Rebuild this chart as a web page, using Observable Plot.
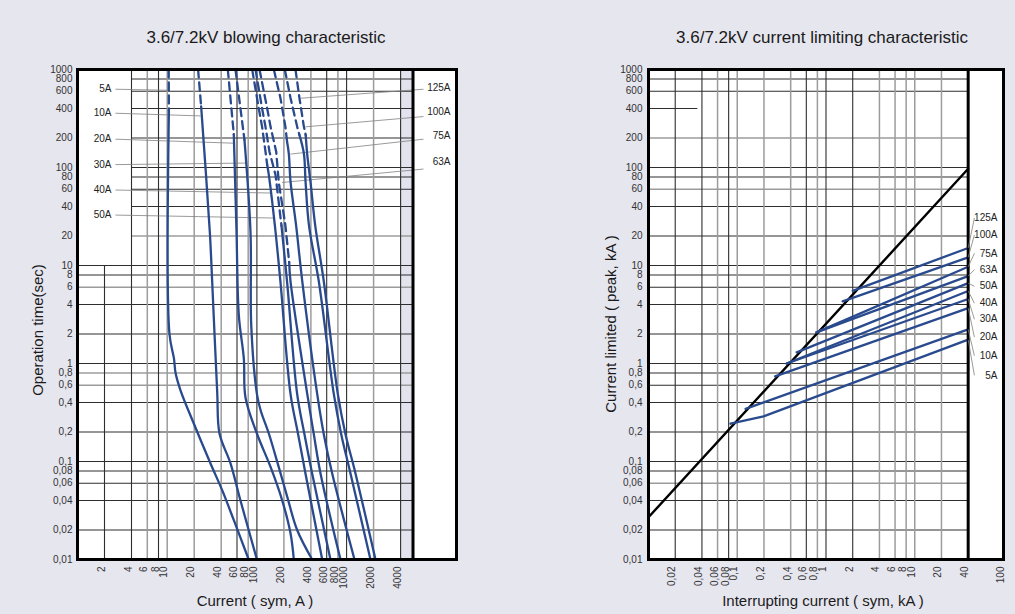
<!DOCTYPE html>
<html><head><meta charset="utf-8">
<script src="https://cdn.jsdelivr.net/npm/d3@7"></script>
<script src="https://cdn.jsdelivr.net/npm/@observablehq/plot@0.6"></script>
<style>
html,body{margin:0;padding:0;background:#e6e6ef;}
#wrap{position:relative;width:1015px;height:614px;background:#e6e6ef;font-family:"Liberation Sans",Arial,sans-serif;color:#1a1a1a;overflow:hidden;}
.abs{position:absolute;white-space:nowrap;line-height:1;}
.title{font-size:17px;transform:translate(-50%,-50%);}
.xlab{font-size:15px;transform:translate(-50%,-50%);}
.ylab{font-size:15px;transform:translate(-50%,-50%) rotate(-90deg);}
</style></head>
<body>
<div id="wrap">
  <div class="abs title" style="left:266px;top:37px">3.6/7.2kV blowing characteristic</div>
  <div class="abs title" style="left:822px;top:37px">3.6/7.2kV current limiting characteristic</div>
  <div class="abs ylab" style="left:37px;top:330px">Operation time(sec)</div>
  <div class="abs xlab" style="left:255px;top:600px">Current ( sym, A )</div>
  <div class="abs ylab" style="left:610px;top:324px">Current limited ( peak, kA )</div>
  <div class="abs xlab" style="left:823px;top:600px">Interrupting current ( sym, kA )</div>
</div>
<script>
// ---------- shared ticks ----------
const yTicks = [1000,800,600,400,200,100,80,60,40,20,10,8,6,4,2,1,0.8,0.6,0.4,0.2,0.1,0.08,0.06,0.04,0.02,0.01];
const xTicksBlow = [2,4,6,8,10,20,40,60,80,100,200,400,600,800,1000,2000,4000];
const xTicksLimit = [0.02,0.04,0.06,0.08,0.1,0.2,0.4,0.6,0.8,1,2,4,6,8,10,20,40,100];
const fuseNames = ["5A","10A","20A","30A","40A","50A","63A","75A","100A","125A"];

// ---------- blowing characteristic: [current A, time s] ----------
const blow5A   = [[10.4,1000],[10.45,380],[10.6,2],[11.9,1.12],[12.4,0.8],[14.1,0.53],[19.8,0.244],[30.4,0.0955],[41,0.051],[55.3,0.0252],[81,0.01]];
const blow10A  = [[22.1,1000],[23.9,420],[29.9,21.6],[31.7,7.0],[36.1,0.51],[38.3,0.193],[50.8,0.0955],[65.6,0.04],[100,0.01]];
const blow20A  = [[47.4,1000],[55.3,217],[59.3,21.6],[62.9,3.09],[71.5,1.12],[74.6,0.45],[100,0.193],[142,0.088],[191,0.0404],[237,0.0185],[258,0.01]];
const blow30A  = [[57.7,1000],[72.7,191],[84.9,21.6],[86.5,2.44],[100,0.49],[110,0.333],[135.8,0.193],[175,0.088],[218,0.0436],[281,0.02],[413,0.01]];
const blow40A  = [[88.6,1000],[105,400],[114.3,260],[124.7,145],[130.3,106],[135.8,84],[158.7,25.5],[182.9,6.9],[237,0.49],[288,0.19],[348,0.0755],[535,0.01]];
const blow50A  = [[96.5,1000],[114.3,400],[124.7,260],[138.1,145],[161.3,84],[187.9,25.5],[216.8,6.9],[281,0.49],[339,0.19],[413,0.0755],[661,0.01]];
const blow63A  = [[106.9,1000],[130.3,400],[142,260],[164.2,145],[175.5,69.8],[208,25.5],[229,10.8],[237,6.9],[364,0.49],[431,0.19],[512,0.0755],[855,0.01]];
const blow75A  = [[154.5,1000],[182.9,513],[208,260],[216.8,184],[227,138],[237,72],[273.8,25.5],[320.6,6.9],[470,0.49],[557,0.19],[691,0.0755],[1225,0.01]];
const blow100A = [[204.6,1000],[237,513],[281.4,260],[298,215],[334.4,138],[348.6,72],[381,25.5],[490,6.9],[720,0.49],[871,0.19],[1105,0.0755],[1846,0.01]];
const blow125A = [[269.3,1000],[297.8,513],[334.4,260],[350,215],[363.4,138],[395.4,72],[447,25.5],[557,6.9],[798,0.49],[972,0.19],[1257,0.0755],[2100,0.01]];
// index of the point where the dashed (upper) part ends
const blowDashUntil = [1,1,1,1,4,5,6,3,3,3];

// labels of the blowing chart
const blowLeftLabels  = ["5A","10A","20A","30A","40A","50A"];
const blowLeftLabelT  = [629,358,194.5,107,58.9,32.7];
const blowLeftLeaderEnd = [[10.3,614],[23.5,336],[55.3,177],[78,111],[142,54.9],[154,30.5]];
const blowRightLabels = ["125A","100A","75A","63A"];
const blowRightLabelT = [644,371,210,114];
const blowRightLeaderStartT = [629,331,194.5,96.4];
const blowRightLeaderEnd = [[306,509],[348.6,260],[237,137],[191,70.3]];

// ---------- current limiting characteristic: [kA sym, kA peak] ----------
const limitDiagonal = [[0.01,0.027],[40,97]];
const limit5A   = [[0.084,0.243],[0.198,0.289],[40,1.75]];
const limit10A  = [[0.124,0.345],[40,2.23]];
const limit20A  = [[0.267,0.74],[40,3.68]];
const limit30A  = [[0.36,1.0],[40,4.55]];
const limit40A  = [[0.36,1.0],[40,5.5]];
const limit50A  = [[0.467,1.3],[40,6.6]];
const limit63A  = [[0.78,2.08],[40,7.8]];
const limit75A  = [[0.78,2.08],[40,9.7]];
const limit100A = [[1.54,4.3],[40,12.1]];
const limit125A = [[2.0,5.5],[40,15.1]];
const limitLabelY = [0.757,1.2,1.86,2.83,4.12,6.14,9.08,13.3,20.5,30.5];

// ---------- layout constants (data space) ----------
const blowGridMax = 5500, blowBoxMax = 16800, blowBandMin = 4000;
const limitGridMax = 40, limitBoxMax = 100;

// ---------- styles ----------
const FONT = "'Liberation Sans', Arial, sans-serif";
const BLUE = "#2a4a8e", DARK = "#2e2e2e", GRAY = "#9c9c9c";
const fmt = d => String(d).replace(".", ",");
const blowDarkX = [2,4,8,60,100,600,1000,4000];
const blowGrayY = [20,6,0.8,0.6];
const limitDarkX = [0.02,0.04,0.08,0.6,1,2];
const limitGrayY = [200,60,0.06];
const yGrid = yTicks.filter(d => d !== 1000 && d !== 0.01);

// ---------- build rows ----------
const blowCurves = [blow5A,blow10A,blow20A,blow30A,blow40A,blow50A,blow63A,blow75A,blow100A,blow125A];
const dashedRows = [], solidRows = [];
blowCurves.forEach((pts, k) => {
  pts.forEach((p, i) => {
    const r = {fuse: fuseNames[k], I: p[0], t: p[1]};
    if (i <= blowDashUntil[k]) dashedRows.push(r);
    if (i >= blowDashUntil[k]) solidRows.push(r);
  });
});
const leftLabelRows = blowLeftLabels.map((s, i) => ({s, t: blowLeftLabelT[i], end: blowLeftLeaderEnd[i]}));
const rightLabelRows = blowRightLabels.map((s, i) => ({s, t: blowRightLabelT[i], ts: blowRightLeaderStartT[i], end: blowRightLeaderEnd[i]}));

const limitCurves = [limit5A,limit10A,limit20A,limit30A,limit40A,limit50A,limit63A,limit75A,limit100A,limit125A];
const limitRows = [];
limitCurves.forEach((pts, k) => pts.forEach(p => limitRows.push({fuse: fuseNames[k], x: p[0], y: p[1]})));
const limitLabelRows = fuseNames.map((s, i) => ({s, y: limitLabelY[i], end: limitCurves[i][limitCurves[i].length - 1]}));

const baseStyle = {background: "transparent", fontFamily: FONT, fontSize: "10px", color: "#2a2a2a", overflow: "visible"};

// ---------- left chart ----------
const left = Plot.plot({
  width: 480, height: 614,
  marginLeft: 77, marginRight: 24, marginTop: 69, marginBottom: 55,
  style: baseStyle,
  x: {type: "log", domain: [1, blowBoxMax], axis: null},
  y: {type: "log", domain: [0.01, 1000], axis: null},
  marks: [
    Plot.frame({fill: "white"}),
    Plot.rect([0], {x1: () => blowBandMin, x2: () => blowGridMax, y1: () => 0.01, y2: () => 1000, fill: "#e3e3ee"}),
    Plot.ruleY(yGrid, {y: d => d, x1: d => d >= 20 ? 4 : 1, x2: () => blowGridMax,
      stroke: d => blowGrayY.includes(d) ? GRAY : DARK, strokeWidth: d => blowGrayY.includes(d) ? 1.5 : 1.1}),
    Plot.ruleX(xTicksBlow, {x: d => d, y1: () => 0.01, y2: d => d === 2 ? 10 : 1000,
      stroke: d => blowDarkX.includes(d) ? DARK : GRAY, strokeWidth: d => blowDarkX.includes(d) ? 1.1 : 1.5}),
    Plot.link(leftLabelRows, {x1: () => 2.65, y1: d => d.t, x2: d => d.end[0], y2: d => d.end[1], stroke: "#808080", strokeWidth: 0.8}),
    Plot.link(rightLabelRows, {x1: () => 7200, y1: d => d.ts, x2: d => d.end[0], y2: d => d.end[1], stroke: "#808080", strokeWidth: 0.8}),
    Plot.line(dashedRows, {x: "I", y: "t", z: "fuse", stroke: BLUE, strokeWidth: 2.3, strokeDasharray: "8,5"}),
    Plot.line(solidRows, {x: "I", y: "t", z: "fuse", stroke: BLUE, strokeWidth: 2.3, curve: "catmull-rom"}),
    Plot.ruleX([blowGridMax], {stroke: "#000", strokeWidth: 3}),
    Plot.frame({stroke: "#000", strokeWidth: 3}),
    Plot.text(leftLabelRows, {x: () => 2.39, y: d => d.t, text: d => d.s, textAnchor: "end", fill: "#222", fontSize: 10}),
    Plot.text(rightLabelRows, {x: () => 14400, y: d => d.t, text: d => d.s, textAnchor: "end", fill: "#222", fontSize: 10}),
    Plot.text(yTicks, {y: d => d, text: fmt, frameAnchor: "left", textAnchor: "end", dx: -5, fill: "#333", fontSize: 10}),
    Plot.text(xTicksBlow, {x: d => d, text: fmt, frameAnchor: "bottom", rotate: -90, textAnchor: "end", dy: 7, fill: "#333", fontSize: 10})
  ]
});

// ---------- right chart ----------
const right = Plot.plot({
  width: 485, height: 614,
  marginLeft: 118, marginRight: 12, marginTop: 69, marginBottom: 55,
  style: baseStyle,
  x: {type: "log", domain: [0.01, limitBoxMax], axis: null},
  y: {type: "log", domain: [0.01, 1000], axis: null},
  marks: [
    Plot.frame({fill: "white"}),
    Plot.ruleY(yGrid, {y: d => d, x1: () => 0.01, x2: d => d === 400 ? 0.036 : limitGridMax,
      stroke: d => limitGrayY.includes(d) ? GRAY : DARK, strokeWidth: d => limitGrayY.includes(d) ? 1.5 : 1.1}),
    Plot.ruleX(xTicksLimit.filter(d => d < limitGridMax), {x: d => d, y1: () => 0.01, y2: () => 1000,
      stroke: d => limitDarkX.includes(d) ? DARK : GRAY, strokeWidth: d => limitDarkX.includes(d) ? 1.1 : 1.5}),
    Plot.line(limitDiagonal, {x: d => d[0], y: d => d[1], stroke: "#000", strokeWidth: 2.4}),
    Plot.line(limitRows, {x: "x", y: "y", z: "fuse", stroke: BLUE, strokeWidth: 2.3}),
    Plot.ruleX([limitGridMax], {stroke: "#000", strokeWidth: 3}),
    Plot.frame({stroke: "#000", strokeWidth: 3}),
    Plot.link(limitLabelRows, {x1: () => 47, y1: d => d.y, x2: d => d.end[0], y2: d => d.end[1], stroke: "#808080", strokeWidth: 0.8}),
    Plot.text(limitLabelRows, {x: () => 85.5, y: d => d.y, text: d => d.s, textAnchor: "end", fill: "#222", fontSize: 10}),
    Plot.text(yTicks, {y: d => d, text: fmt, frameAnchor: "left", textAnchor: "end", dx: -6, fill: "#333", fontSize: 10}),
    Plot.text(xTicksLimit, {x: d => d, text: fmt, frameAnchor: "bottom", rotate: -90, textAnchor: "end", dy: 7, fill: "#333", fontSize: 10})
  ]
});

const wrap = document.getElementById("wrap");
[[left, 0], [right, 530]].forEach(([svg, x]) => {
  svg.style.position = "absolute";
  svg.style.left = x + "px";
  svg.style.top = "0px";
  svg.style.maxWidth = "none";
  wrap.appendChild(svg);
});
</script>
</body></html>
